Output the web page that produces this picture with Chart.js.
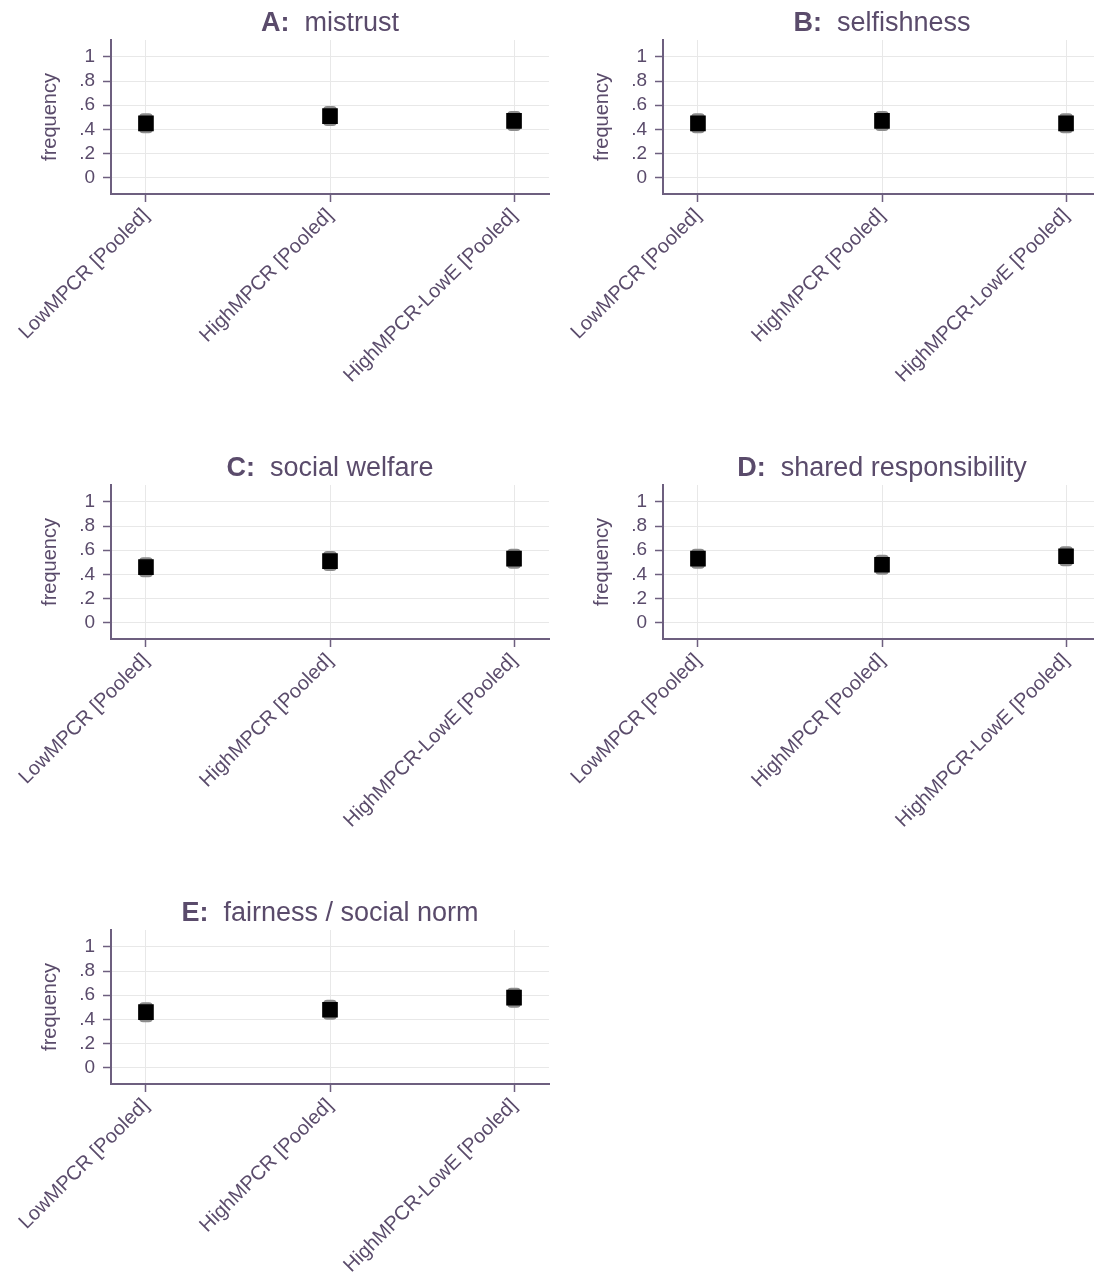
<!DOCTYPE html>
<html>
<head>
<meta charset="utf-8">
<script src="https://cdn.jsdelivr.net/npm/chart.js@4/dist/chart.umd.min.js"></script>
<style>
  html, body { margin: 0; padding: 0; background: #ffffff; overflow: hidden; }
  #wrap { position: relative; width: 1094px; height: 1282px; overflow: hidden; }
  canvas { position: absolute; }
</style>
</head>
<body>
<div id="wrap">
  <canvas id="pA" width="552" height="445" style="left:0px;top:0px"></canvas>
  <canvas id="pB" width="552" height="445" style="left:552px;top:0px"></canvas>
  <canvas id="pC" width="552" height="445" style="left:0px;top:445px"></canvas>
  <canvas id="pD" width="552" height="445" style="left:552px;top:445px"></canvas>
  <canvas id="pE" width="552" height="392" style="left:0px;top:890px"></canvas>
</div>
<script>
// Treatments on the x axis
const categories = ['LowMPCR [Pooled]', 'HighMPCR [Pooled]', 'HighMPCR-LowE [Pooled]'];

// Y axis ticks
const yTickValues = [0, 0.2, 0.4, 0.6, 0.8, 1];
const yTickLabels = ['0', '.2', '.4', '.6', '.8', '1'];

// Panel headings
const panelLetters = ['A', 'B', 'C', 'D', 'E'];
const panelTitles = ['mistrust', 'selfishness', 'social welfare', 'shared responsibility', 'fairness / social norm'];

// Mean frequency per treatment, with confidence bounds
const mistrust      = [0.45, 0.51, 0.47];
const mistrustLo    = [0.37, 0.43, 0.39];
const mistrustHi    = [0.53, 0.59, 0.55];

const selfishness   = [0.45, 0.47, 0.45];
const selfishnessLo = [0.37, 0.39, 0.37];
const selfishnessHi = [0.53, 0.55, 0.53];

const welfare       = [0.46, 0.51, 0.53];
const welfareLo     = [0.38, 0.43, 0.45];
const welfareHi     = [0.54, 0.59, 0.61];

const shared        = [0.53, 0.48, 0.55];
const sharedLo      = [0.45, 0.40, 0.47];
const sharedHi      = [0.61, 0.56, 0.63];

const fairness      = [0.46, 0.48, 0.58];
const fairnessLo    = [0.38, 0.40, 0.50];
const fairnessHi    = [0.54, 0.56, 0.66];

const panels = [
  { id: 'pA', mean: mistrust,    lo: mistrustLo,    hi: mistrustHi },
  { id: 'pB', mean: selfishness, lo: selfishnessLo, hi: selfishnessHi },
  { id: 'pC', mean: welfare,     lo: welfareLo,     hi: welfareHi },
  { id: 'pD', mean: shared,      lo: sharedLo,      hi: sharedHi },
  { id: 'pE', mean: fairness,    lo: fairnessLo,    hi: fairnessHi }
];

const FONT = '"Liberation Sans", Arial, sans-serif';
const TEXT = '#5a4b6b';
const AXIS = '#6d5f7f';
const GRID = '#e8e8e8';

Chart.defaults.font.family = FONT;
Chart.defaults.color = TEXT;

// Heading like "A:  mistrust" with a bold letter, centred over the plot area
const headingPlugin = {
  id: 'heading',
  afterDraw(chart, args, opts) {
    const ctx = chart.ctx;
    const area = chart.chartArea;
    const cx = (area.left + area.right) / 2;
    const bold = 'bold 27px ' + FONT;
    const normal = '27px ' + FONT;
    const first = opts.letter + ':';
    const rest = '  ' + opts.text;
    ctx.save();
    ctx.font = bold;
    const w1 = ctx.measureText(first).width;
    ctx.font = normal;
    const w2 = ctx.measureText(rest).width;
    const x0 = cx - (w1 + w2) / 2;
    ctx.fillStyle = TEXT;
    ctx.textBaseline = 'alphabetic';
    ctx.textAlign = 'left';
    ctx.font = bold;
    ctx.fillText(first, x0, 31);
    ctx.font = normal;
    ctx.fillText(rest, x0 + w1, 31);
    ctx.restore();
  }
};

panels.forEach((p, i) => {
  const canvas = document.getElementById(p.id);
  const H = canvas.height;
  new Chart(canvas, {
    type: 'scatter',
    data: {
      datasets: [
        {
          type: 'scatter',
          data: p.mean.map((v, k) => ({ x: k, y: v })),
          pointStyle: 'rect',
          pointRadius: 10,
          pointHoverRadius: 10,
          backgroundColor: '#000000',
          borderColor: '#000000',
          borderWidth: 1.5,
          order: 0
        },
        {
          type: 'bar',
          data: p.lo.map((v, k) => ({ x: k, y: [v, p.hi[k]] })),
          barThickness: 13,
          backgroundColor: '#8c8c8c',
          borderRadius: 4,
          borderSkipped: false,
          order: 1
        }
      ]
    },
    options: {
      responsive: false,
      animation: false,
      devicePixelRatio: 1,
      layout: { autoPadding: false, padding: { top: 40, right: 3, left: 0, bottom: 0 } },
      plugins: {
        legend: { display: false },
        tooltip: { enabled: false },
        heading: { letter: panelLetters[i], text: panelTitles[i] }
      },
      scales: {
        x: {
          type: 'linear',
          min: -0.19,
          max: 2.19,
          offset: false,
          afterBuildTicks(scale) { scale.ticks = categories.map((c, k) => ({ value: k })); },
          afterFit(scale) {
            scale.height = H - 194;
            scale.paddingLeft = 0;
            scale.paddingRight = 0;
          },
          grid: { color: GRID, lineWidth: 1, tickColor: AXIS, tickLength: 8, tickWidth: 1.5, offset: false },
          border: { color: AXIS, width: 2 },
          ticks: {
            autoSkip: false,
            minRotation: 45,
            maxRotation: 45,
            padding: 2,
            color: TEXT,
            font: { size: 20, family: FONT },
            callback: (v) => categories[v]
          }
        },
        y: {
          type: 'linear',
          min: -0.135,
          max: 1.14,
          afterBuildTicks(scale) { scale.ticks = yTickValues.map(v => ({ value: v })); },
          afterFit(scale) {
            scale.width = 111;
            scale.paddingTop = 0;
            scale.paddingBottom = 0;
          },
          grid: { color: GRID, lineWidth: 1, tickColor: AXIS, tickLength: 8, tickWidth: 1.5 },
          border: { color: AXIS, width: 2 },
          ticks: {
            padding: 8,
            color: TEXT,
            font: { size: 19, family: FONT },
            callback: (v) => yTickLabels[yTickValues.indexOf(v)]
          },
          title: {
            display: true,
            text: 'frequency',
            color: TEXT,
            font: { size: 20, family: FONT },
            padding: { top: 38, bottom: 0 }
          }
        }
      }
    },
    plugins: [headingPlugin]
  });
});
</script>
</body>
</html>
